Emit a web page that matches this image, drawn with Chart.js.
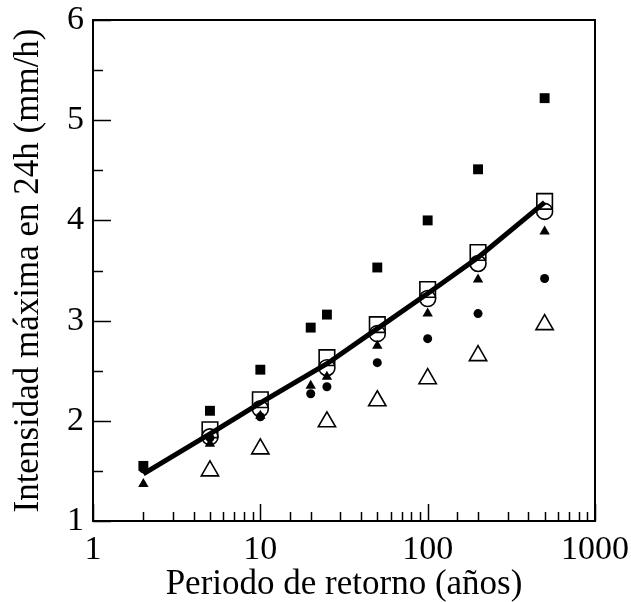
<!DOCTYPE html>
<html>
<head>
<meta charset="utf-8">
<script src="https://cdn.jsdelivr.net/npm/chart.js@4/dist/chart.umd.min.js"></script>
<style>
  html, body { margin: 0; padding: 0; background: #fff; }
  #wrap { width: 631px; height: 602px; }
</style>
</head>
<body>
<div id="wrap"><canvas id="chart" width="631" height="602"></canvas></div>
<script>
// return periods (years)
const periods = [2, 5, 10, 20, 25, 50, 100, 200, 500];
const periodsFit = [5, 10, 25, 50, 100, 200, 500];

// max 24h intensity (mm/h) per station / method
const filledSquare = [1.55, 2.10, 2.51, 2.93, 3.06, 3.53, 4.00, 4.51, 5.22];
const filledCircle = [1.52, 1.83, 2.04, 2.27, 2.34, 2.58, 2.82, 3.07, 3.42];
const filledTriangle = [1.37, 1.77, 2.05, 2.35, 2.44, 2.75, 3.07, 3.41, 3.89];
const openSquare = [1.91, 2.21, 2.63, 2.96, 3.31, 3.68, 4.19];
const openCircle = [1.84, 2.12, 2.53, 2.87, 3.22, 3.57, 4.09];
const openTriangle = [1.50, 1.72, 1.99, 2.20, 2.42, 2.65, 2.96];

// fitted curve
const fitPeriods = [2, 5, 10, 25, 50, 100, 200, 500];
const fitValues = [1.47, 1.87, 2.18, 2.57, 2.92, 3.27, 3.63, 4.18];

const xTickLabels = [1, 10, 100, 1000];
const yTickLabels = [1, 2, 3, 4, 5, 6];

function pts(xs, ys) {
  return xs.map((x, i) => ({ x: x, y: ys[i] }));
}

function markers(data, style, radius, filled) {
  return {
    data: data,
    pointStyle: style,
    pointRadius: radius,
    pointHoverRadius: radius,
    pointBackgroundColor: filled ? '#000' : 'rgba(0,0,0,0)',
    pointBorderColor: '#000',
    pointBorderWidth: filled ? 0 : 1.6,
    showLine: false,
    order: 1
  };
}

// inward tick marks and the closed frame
const frame = {
  id: 'frame',
  afterDraw(chart) {
    const ctx = chart.ctx;
    const a = chart.chartArea;
    const xs = chart.scales.x, ys = chart.scales.y;
    ctx.save();
    ctx.strokeStyle = '#000';
    ctx.lineWidth = 1.5;
    ctx.beginPath();
    xs.ticks.forEach(t => {
      const px = Math.round(xs.getPixelForValue(t.value)) + 0.5;
      const major = xTickLabels.includes(t.value);
      const len = major ? 17 : 9;
      ctx.moveTo(px, a.bottom);
      ctx.lineTo(px, a.bottom - len);
    });
    ys.ticks.forEach(t => {
      const py = Math.round(ys.getPixelForValue(t.value)) + 0.5;
      const major = yTickLabels.includes(t.value);
      const len = major ? 18 : 10;
      ctx.moveTo(a.left, py);
      ctx.lineTo(a.left + len, py);
    });
    ctx.stroke();
    ctx.lineWidth = 2;
    ctx.strokeRect(a.left, a.top, a.right - a.left, a.bottom - a.top);
    ctx.restore();
  }
};

const serif = "'Liberation Serif', 'Times New Roman', serif";

function draw() {
  new Chart(document.getElementById('chart').getContext('2d'), {
    type: 'scatter',
    data: {
      datasets: [
        {
          data: pts(fitPeriods, fitValues),
          showLine: true,
          borderColor: '#000',
          borderWidth: 5,
          pointRadius: 0,
          tension: 0,
          order: 0
        },
        markers(pts(periods, filledSquare), 'rect', 7, true),
        markers(pts(periods, filledCircle), 'circle', 4.5, true),
        markers(pts(periods, filledTriangle), 'triangle', 6, true),
        markers(pts(periodsFit, openSquare), 'rect', 11, false),
        markers(pts(periodsFit, openCircle), 'circle', 8, false),
        markers(pts(periodsFit, openTriangle), 'triangle', 10, false)
      ]
    },
    plugins: [frame],
    options: {
      responsive: false,
      animation: false,
      layout: { padding: { top: 20, right: 36, left: 0, bottom: 0 } },
      plugins: { legend: { display: false }, tooltip: { enabled: false } },
      scales: {
        x: {
          type: 'logarithmic',
          min: 1,
          max: 1000,
          border: { display: false },
          grid: { display: false, drawTicks: false },
          ticks: {
            autoSkip: false,
            maxRotation: 0,
            padding: 9,
            color: '#000',
            font: { family: serif, size: 34 },
            callback: v => xTickLabels.includes(v) ? String(v) : ''
          },
          title: {
            display: true,
            text: 'Periodo de retorno (años)',
            color: '#000',
            font: { family: serif, size: 35, lineHeight: 1 },
            padding: { top: 0, bottom: 0 }
          },
          afterFit(scale) {
            scale.height = 81;
            scale.paddingLeft = 0;
            scale.paddingRight = 0;
          }
        },
        y: {
          min: 1,
          max: 6,
          border: { display: false },
          grid: { display: false, drawTicks: false },
          ticks: {
            stepSize: 0.5,
            autoSkip: false,
            padding: 9,
            color: '#000',
            font: { family: serif, size: 34 },
            callback: v => yTickLabels.includes(v) ? String(v) : ''
          },
          title: {
            display: true,
            text: 'Intensidad máxima en 24h (mm/h)',
            color: '#000',
            font: { family: serif, size: 35, lineHeight: 1 },
            padding: { top: 11, bottom: 0 }
          },
          afterFit(scale) {
            scale.width = 93;
            scale.paddingTop = 0;
            scale.paddingBottom = 0;
          }
        }
      }
    }
  });
}

Promise.all([
  document.fonts.load("34px 'Liberation Serif'")
]).then(draw, draw);
</script>
</body>
</html>
